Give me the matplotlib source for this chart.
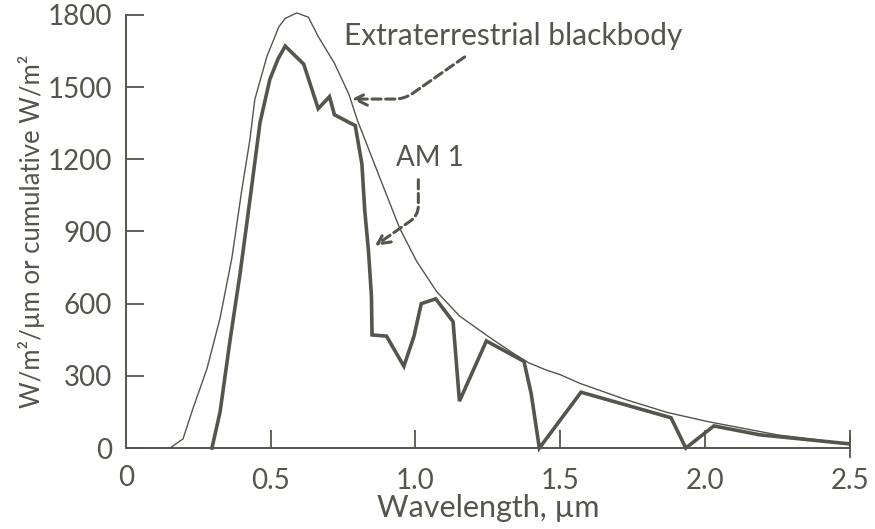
import matplotlib
matplotlib.use("Agg")
import matplotlib.pyplot as plt

plt.rcParams['font.family'] = ['Lato', 'DejaVu Sans']

INK = '#55554d'

# extraterrestrial blackbody curve (wavelength in um, W/m2/um)
bb_wl = [0.152, 0.197, 0.231, 0.28, 0.325, 0.366, 0.40, 0.428, 0.445, 0.487,
         0.528, 0.55, 0.59, 0.63, 0.665, 0.72, 0.77, 0.80, 0.887, 0.946,
         1.005, 1.074, 1.153, 1.25, 1.33, 1.39, 1.45, 1.50, 1.57, 1.73,
         1.87, 2.01, 2.25, 2.50]
bb_val = [0, 38, 163, 331, 540, 791, 1072, 1281, 1448, 1628,
          1750, 1785, 1808, 1790, 1708, 1599, 1470, 1360, 1092, 912,
          774, 649, 548, 465, 400, 355, 325, 305, 268, 200,
          148, 110, 55, 17]

# AM 1 spectrum at ground level
am1_wl = [0.297, 0.325, 0.359, 0.394, 0.428, 0.463, 0.497, 0.525, 0.55, 0.614,
          0.664, 0.703, 0.72, 0.775, 0.792, 0.815, 0.825, 0.838, 0.848, 0.85,
          0.90, 0.96, 0.995, 1.02, 1.07, 1.13, 1.152, 1.245, 1.375, 1.40,
          1.428, 1.572, 1.883, 1.934, 2.031, 2.19, 2.495]
am1_val = [0, 150, 444, 724, 1030, 1352, 1532, 1616, 1670, 1595,
           1410, 1460, 1385, 1350, 1340, 1180, 985, 815, 630, 470,
           465, 340, 465, 600, 620, 525, 195, 445, 360, 225,
           0, 232, 126, 0, 92, 55, 18]

x_ticks = [0.5, 1.0, 1.5, 2.0, 2.5]
x_labels = ['0.5', '1.0', '1.5', '2.0', '2.5']
y_ticks = [0, 300, 600, 900, 1200, 1500, 1800]

fig = plt.figure(figsize=(8.75, 5.29), dpi=100)
ax = fig.add_axes([0.144, 0.153, 0.827, 0.819])

ax.plot(bb_wl, bb_val, color=INK, lw=1.0, clip_on=False)
ax.plot(am1_wl, am1_val, color=INK, lw=2.6, solid_joinstyle='miter', clip_on=False)

ax.set_xlim(0, 2.5)
ax.set_ylim(0, 1800)

for s in ['top', 'right']:
    ax.spines[s].set_visible(False)
for s in ['left', 'bottom']:
    ax.spines[s].set_color(INK)
    ax.spines[s].set_linewidth(1.4)

ax.set_yticks(y_ticks)
ax.set_xticks(x_ticks)
ax.set_xticklabels(x_labels)
ax.tick_params(axis='both', direction='in', length=13, width=1.3, color=INK,
               labelcolor=INK, labelsize=20)
ax.tick_params(axis='x', pad=14)
ax.tick_params(axis='y', pad=10)
# zero on the x axis is labelled without a tick mark
ax.text(0, -70, '0', ha='center', va='top', fontsize=20, color=INK)
ax.axvline(2.5, ymin=-0.02, ymax=0.03, color=INK, lw=1.3, clip_on=False)

ax.set_xlabel('Wavelength, µm', fontsize=22, color=INK, labelpad=0)
ax.set_ylabel('W/m²/µm or cumulative W/m²', fontsize=18.5, color=INK, labelpad=2)

# labels with dashed pointer arrows
ax.text(0.752, 1712, 'Extraterrestrial blackbody', fontsize=21.5, color=INK,
        ha='left', va='center')
ax.annotate('', xy=(0.78, 1450), xytext=(1.17, 1625),
            arrowprops=dict(arrowstyle='->', color=INK, lw=2.2, linestyle=(0, (3, 1.5)),
                            connectionstyle='angle,angleA=35,angleB=0,rad=10',
                            mutation_scale=22, shrinkA=0, shrinkB=0))
ax.text(0.934, 1205, 'AM 1', fontsize=20, color=INK, ha='left', va='center')
ax.annotate('', xy=(0.86, 840), xytext=(1.01, 1115),
            arrowprops=dict(arrowstyle='->', color=INK, lw=2.2, linestyle=(0, (3, 1.5)),
                            connectionstyle='angle,angleA=90,angleB=35,rad=10',
                            mutation_scale=22, shrinkA=0, shrinkB=0))

fig.savefig('out.png', dpi=100)
